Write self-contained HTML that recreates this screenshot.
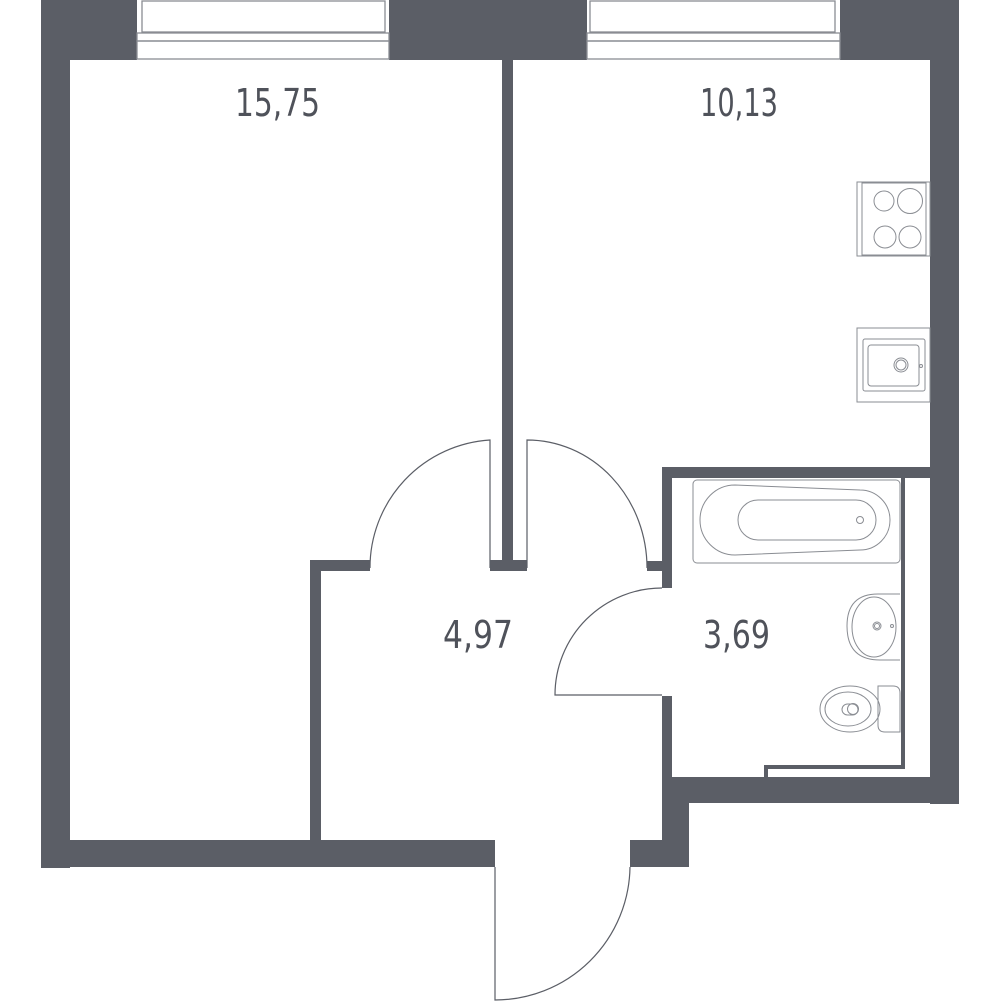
<!DOCTYPE html>
<html><head><meta charset="utf-8"><style>
html,body{margin:0;padding:0;background:#fff;}
svg{display:block;}
text{font-family:"DejaVu Sans","Liberation Sans",sans-serif;fill:#4f525a;}
</style></head><body>
<svg width="1000" height="1002" viewBox="0 0 1000 1002" xmlns="http://www.w3.org/2000/svg">
<g fill="#5b5e66">
<rect x="41" y="0" width="96" height="60"/>
<rect x="389" y="0" width="198" height="60"/>
<rect x="840" y="0" width="119" height="60"/>
<rect x="41" y="0" width="29" height="868"/>
<rect x="930" y="0" width="29" height="804"/>
<rect x="502" y="60" width="11" height="510"/>
<rect x="490" y="560" width="37" height="11"/>
<rect x="310" y="560" width="60" height="11"/>
<rect x="310" y="560" width="11" height="290"/>
<rect x="647" y="561" width="25" height="10"/>
<rect x="41" y="840" width="454" height="27"/>
<rect x="630" y="840" width="59" height="27"/>
<rect x="662" y="777" width="27" height="90"/>
<rect x="662" y="777" width="297" height="26"/>
<rect x="662" y="467" width="268" height="11"/>
<rect x="662" y="467" width="10" height="121"/>
<rect x="662" y="696" width="10" height="90"/>
<rect x="901" y="478" width="4" height="291"/>
<rect x="764" y="765" width="141" height="4"/>
<rect x="764" y="765" width="4" height="14"/>
</g>
<g fill="none" stroke="#8a8d93" stroke-width="1.3">
<rect x="142" y="1" width="243" height="31"/>
<rect x="137" y="33" width="252" height="8"/>
<rect x="137" y="41" width="252" height="18"/>
<rect x="590" y="1" width="245" height="31"/>
<rect x="587" y="33" width="253" height="8"/>
<rect x="587" y="41" width="253" height="18"/>
</g>
<g fill="none" stroke="#5b5e66" stroke-width="1.2">
<path d="M490 568 L490 440 A128 128 0 0 0 370 568"/>
<path d="M527 568 L527 440 A120 128 0 0 1 647 568"/>
<path d="M662 588 A107 107 0 0 0 555 695 L662 695"/>
<path d="M495 867 L495 1000 A135 135 0 0 0 630 867"/>
</g>
<g fill="none" stroke="#8a8d93" stroke-width="1">
<rect x="857" y="182" width="73" height="74"/>
<rect x="862" y="183" width="64" height="72"/>
<circle cx="884" cy="201" r="10"/>
<circle cx="910" cy="201" r="12.5"/>
<circle cx="885" cy="237" r="11"/>
<circle cx="910" cy="237" r="11"/>
<rect x="857" y="328" width="73" height="74"/>
<rect x="863" y="339" width="62" height="52" rx="2"/>
<rect x="868" y="345" width="51" height="41" rx="3"/>
<circle cx="901" cy="365" r="7"/>
<circle cx="901" cy="365" r="5"/>
<circle cx="921" cy="366" r="1.5"/>
<rect x="693" y="480" width="207" height="83" rx="4"/>
<path d="M735 485 L860 490 A30 30 0 0 1 860 550 L735 555 A35 35 0 0 1 735 485 Z"/>
<rect x="738" y="500" width="138" height="40" rx="20"/>
<circle cx="860" cy="520" r="3.5"/>
<path d="M900 594 L878 594 Q847 594 847 626 Q847 660 880 660 L900 660"/>
<ellipse cx="874" cy="627" rx="22" ry="30"/>
<circle cx="877" cy="626" r="4"/>
<circle cx="877" cy="626" r="2.5"/>
<circle cx="892" cy="626" r="1.5"/>
<path d="M878 686 L893 686 Q900 686 900 693 L900 732 L885 732 Q878 732 878 725 Z"/>
<ellipse cx="850" cy="709" rx="30" ry="23"/>
<ellipse cx="848" cy="709" rx="23" ry="17"/>
<rect x="842" y="704" width="16" height="11" rx="5.5"/>
<circle cx="853" cy="709" r="5.5"/>
</g>
<text x="235" y="116" font-size="38" textLength="85" lengthAdjust="spacingAndGlyphs">15,75</text>
<text x="700" y="116" font-size="38" textLength="78" lengthAdjust="spacingAndGlyphs">10,13</text>
<text x="443" y="648" font-size="38" textLength="70" lengthAdjust="spacingAndGlyphs">4,97</text>
<text x="703" y="648" font-size="38" textLength="67" lengthAdjust="spacingAndGlyphs">3,69</text>
</svg>
</body></html>
